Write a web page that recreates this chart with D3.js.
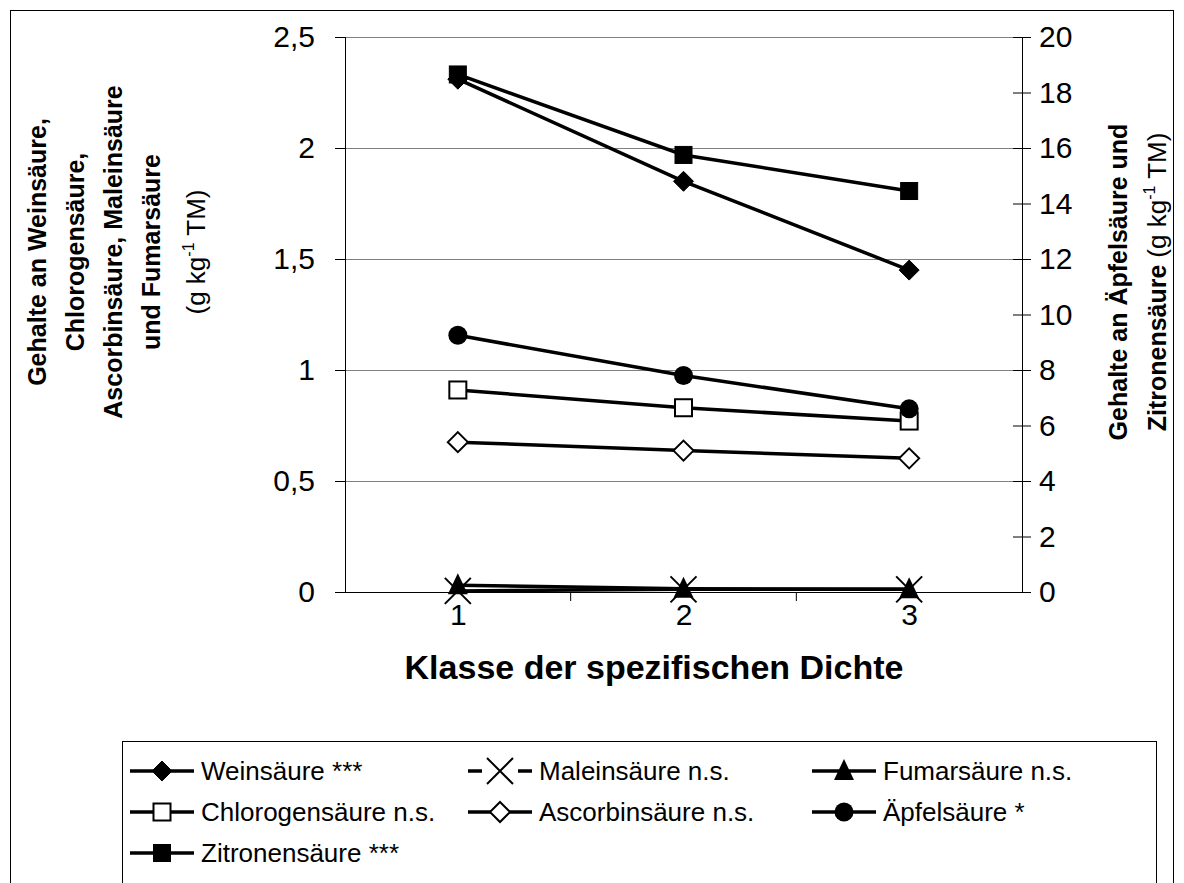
<!DOCTYPE html>
<html><head><meta charset="utf-8">
<script src="https://cdn.jsdelivr.net/npm/d3@7"></script>
<style>body{margin:0;background:#fff;} text{font-family:"Liberation Sans",Arial,sans-serif;}</style>
</head><body>
<svg id="c" width="1184" height="883"></svg>
<script>
const categories = [1, 2, 3];
const weinsaeure = [2.31, 1.85, 1.45];
const maleinsaeure = [0.005, 0.012, 0.012];
const fumarsaeure = [0.03, 0.015, 0.012];
const chlorogensaeure = [0.91, 0.83, 0.77];
const ascorbinsaeure = [0.675, 0.637, 0.602];
const aepfelsaeure = [9.25, 7.8, 6.6];
const zitronensaeure = [18.65, 15.75, 14.45];
const leftTicks = [0, 0.5, 1, 1.5, 2, 2.5];
const rightTicks = [0, 2, 4, 6, 8, 10, 12, 14, 16, 18, 20];
const legendLabels = ["Weinsäure ***", "Maleinsäure n.s.", "Fumarsäure n.s.", "Chlorogensäure n.s.", "Ascorbinsäure n.s.", "Äpfelsäure *", "Zitronensäure ***"];

const series = [
  {name: legendLabels[0], values: weinsaeure, axis: "L", marker: "diamondFilled"},
  {name: legendLabels[1], values: maleinsaeure, axis: "L", marker: "x"},
  {name: legendLabels[2], values: fumarsaeure, axis: "L", marker: "triangle"},
  {name: legendLabels[3], values: chlorogensaeure, axis: "L", marker: "squareOpen"},
  {name: legendLabels[4], values: ascorbinsaeure, axis: "L", marker: "diamondOpen"},
  {name: legendLabels[5], values: aepfelsaeure, axis: "R", marker: "circle"},
  {name: legendLabels[6], values: zitronensaeure, axis: "R", marker: "squareFilled"}
];

const svg = d3.select("#c");
const L = 345, R = 1022, T = 37, B = 592;
const x = d3.scalePoint().domain(categories).range([L, R]).padding(0.5);
const yL = d3.scaleLinear().domain([0, 2.5]).range([B, T]);
const yR = d3.scaleLinear().domain([0, 20]).range([B, T]);
const fmt = d => String(d).replace(".", ",");
const TICKFS = 30;

// outer border
svg.append("rect").attr("x", 10.5).attr("y", 10.5).attr("width", 1163).attr("height", 900)
  .attr("fill", "none").attr("stroke", "#000").attr("stroke-width", 1);

// gridlines
svg.append("g").selectAll("line").data(leftTicks.filter(d => d > 0)).join("line")
  .attr("x1", L).attr("x2", R).attr("y1", d => Math.round(yL(d)) + 0.5).attr("y2", d => Math.round(yL(d)) + 0.5)
  .attr("stroke", "#808080").attr("stroke-width", 1);

// left axis
const gl = svg.append("g").attr("transform", `translate(${L},0)`)
  .call(d3.axisLeft(yL).tickValues(leftTicks).tickFormat(fmt).tickSize(10).tickPadding(20));
gl.selectAll("text").attr("font-size", TICKFS).attr("fill", "#000").style("font-family", "Liberation Sans, Arial");
gl.selectAll("line,path").attr("stroke", "#000");
gl.select(".domain").attr("d", `M0.5,${T}V${B}`);

// right axis
const gr = svg.append("g").attr("transform", `translate(${R},0)`)
  .call(d3.axisRight(yR).tickValues(rightTicks).tickFormat(fmt).tickSize(9).tickPadding(8));
gr.selectAll("text").attr("font-size", TICKFS).attr("fill", "#000").style("font-family", "Liberation Sans, Arial");
gr.selectAll("line,path").attr("stroke", "#000");
gr.selectAll(".tick line").attr("x1", -9);
gr.select(".domain").attr("d", `M0.5,${T}V${B}`);

// x axis
const gx = svg.append("g").attr("transform", `translate(0,${B})`)
  .call(d3.axisBottom(x).tickSize(0).tickPadding(12));
gx.selectAll("text").attr("font-size", TICKFS).attr("fill", "#000").style("font-family", "Liberation Sans, Arial");
gx.select(".domain").attr("d", `M${L},0.5H${R}`).attr("stroke", "#000");
const step = x.step();
const bounds = categories.slice(0, -1).map(c => x(c) + step / 2);
gx.selectAll(".bt").data(bounds).join("line").attr("class", "bt")
  .attr("x1", d => d).attr("x2", d => d).attr("y1", 0).attr("y2", 9).attr("stroke", "#000");

// x title
svg.append("text").attr("x", 654).attr("y", 679).attr("text-anchor", "middle")
  .attr("font-size", 34).attr("font-weight", "bold").text("Klasse der spezifischen Dichte");

// left title
const LTFS = 25, UFS = 26;
const lt = svg.append("text").attr("transform", "translate(0,252) rotate(-90)").attr("text-anchor", "middle")
  .attr("font-size", LTFS).attr("font-weight", "bold");
const leftLines = ["Gehalte an Weinsäure,", "Chlorogensäure,", "Ascorbinsäure, Maleinsäure", "und Fumarsäure"];
const leftCenters = [37, 75, 113, 151];
leftLines.forEach((t, i) => lt.append("tspan").attr("x", 0).attr("y", leftCenters[i] + LTFS * 0.36).text(t));
const lu = lt.append("tspan").attr("x", 0).attr("y", 196 + UFS * 0.36).attr("font-weight", "normal").attr("font-size", UFS);
lu.append("tspan").text("(g kg");
lu.append("tspan").attr("dy", -11).attr("font-size", 16).text("-1");
lu.append("tspan").attr("dy", 11).text(" TM)");

// right title
const rt = svg.append("text").attr("transform", "translate(0,282) rotate(-90)").attr("text-anchor", "middle")
  .attr("font-size", LTFS).attr("font-weight", "bold");
rt.append("tspan").attr("x", 0).attr("y", 1118 + LTFS * 0.36).text("Gehalte an Äpfelsäure und");
const r2 = rt.append("tspan").attr("x", 0).attr("y", 1157 + LTFS * 0.36);
r2.append("tspan").text("Zitronensäure ");
r2.append("tspan").attr("font-weight", "normal").attr("font-size", UFS).text(" (g kg");
r2.append("tspan").attr("font-weight", "normal").attr("font-size", 16).attr("dy", -11).text("-1");
r2.append("tspan").attr("font-weight", "normal").attr("font-size", UFS).attr("dy", 11).text(" TM)");

function drawMarker(g, type, cx, cy) {
  const s = 10;
  if (type === "diamondFilled" || type === "diamondOpen") {
    g.append("path").attr("d", `M${cx},${cy - s}L${cx + s},${cy}L${cx},${cy + s}L${cx - s},${cy}Z`)
      .attr("fill", type === "diamondFilled" ? "#000" : "#fff").attr("stroke", "#000").attr("stroke-width", type === "diamondFilled" ? 1 : 2);
  } else if (type === "squareFilled" || type === "squareOpen") {
    const h = 8.5;
    g.append("rect").attr("x", cx - h).attr("y", cy - h).attr("width", 2 * h).attr("height", 2 * h)
      .attr("fill", type === "squareFilled" ? "#000" : "#fff").attr("stroke", "#000").attr("stroke-width", type === "squareFilled" ? 1 : 2);
  } else if (type === "circle") {
    g.append("circle").attr("cx", cx).attr("cy", cy).attr("r", 9.5).attr("fill", "#000");
  } else if (type === "triangle") {
    g.append("path").attr("d", `M${cx},${cy - 12}L${cx + 10},${cy + 9}L${cx - 10},${cy + 9}Z`).attr("fill", "#000");
  } else if (type === "x") {
    g.append("path").attr("d", `M${cx - 13},${cy - 13}L${cx + 13},${cy + 13}M${cx + 13},${cy - 13}L${cx - 13},${cy + 13}`)
      .attr("stroke", "#000").attr("stroke-width", 2).attr("fill", "none");
  }
}

// lines & markers
const plot = svg.append("g");
series.forEach(s => {
  const ys = s.axis === "L" ? yL : yR;
  const line = d3.line().x((d, i) => x(categories[i])).y(d => ys(d));
  plot.append("path").attr("d", line(s.values)).attr("fill", "none").attr("stroke", "#000").attr("stroke-width", 3.5);
});
series.forEach(s => {
  const ys = s.axis === "L" ? yL : yR;
  const g = plot.append("g");
  s.values.forEach((v, i) => drawMarker(g, s.marker, x(categories[i]), ys(v)));
});

// legend
svg.append("rect").attr("x", 122.5).attr("y", 741.5).attr("width", 1034).attr("height", 200)
  .attr("fill", "#fff").attr("stroke", "#000").attr("stroke-width", 1);
const colX = [130, 468, 812];
const rowY = [771, 812, 853];
series.forEach((s, i) => {
  const cx = colX[i % 3], cy = rowY[Math.floor(i / 3)];
  const g = svg.append("g");
  if (s.marker === "x") {
    g.append("line").attr("x1", cx).attr("x2", cx + 14).attr("y1", cy).attr("y2", cy).attr("stroke", "#000").attr("stroke-width", 3.5);
    g.append("line").attr("x1", cx + 50).attr("x2", cx + 64).attr("y1", cy).attr("y2", cy).attr("stroke", "#000").attr("stroke-width", 3.5);
  } else {
    g.append("line").attr("x1", cx).attr("x2", cx + 64).attr("y1", cy).attr("y2", cy).attr("stroke", "#000").attr("stroke-width", 3.5);
  }
  drawMarker(g, s.marker, cx + 32, cy);
  g.append("text").attr("x", cx + 71).attr("y", cy + 9).attr("font-size", 26).text(s.name);
});
</script>
</body></html>
